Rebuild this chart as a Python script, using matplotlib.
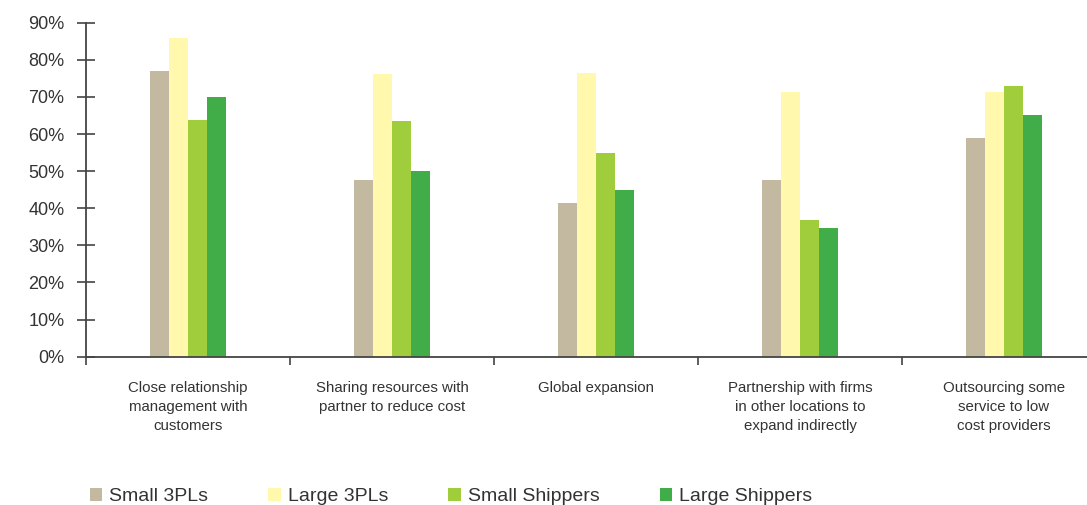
import numpy as np
import matplotlib.pyplot as plt
from matplotlib.patches import Patch

plt.rcParams['font.family'] = ['Liberation Sans', 'DejaVu Sans']

# Survey data (percent of respondents)
categories = [
    "Close relationship\nmanagement with\ncustomers",
    "Sharing resources with\npartner to reduce cost",
    "Global expansion",
    "Partnership with firms\nin other locations to\nexpand indirectly",
    "Outsourcing some\nservice to low\ncost providers",
]
series_names = ["Small 3PLs", "Large 3PLs", "Small Shippers", "Large Shippers"]
small_3pls = [77, 47.5, 41.5, 47.5, 58.8]
large_3pls = [86, 76.3, 76.5, 71.4, 71.4]
small_shippers = [63.8, 63.5, 55, 36.8, 73]
large_shippers = [70, 50, 45, 34.7, 65.2]
colors = ["#c2b9a0", "#fff8ad", "#a0cd3c", "#41ad49"]

AXIS_COLOR = "#444444"
TEXT_COLOR = "#333333"

fig = plt.figure(figsize=(10.87, 5.05), dpi=100)
ax = fig.add_axes([86 / 1087, 148.3 / 505, 1 - 86 / 1087, (356.7 - 22.7) / 505])

x = np.arange(len(categories))
bar_w = 0.093
all_series = [small_3pls, large_3pls, small_shippers, large_shippers]
for i, (vals, c) in enumerate(zip(all_series, colors)):
    ax.bar(x + (i - 1.5) * bar_w, vals, width=bar_w, color=c, linewidth=0, zorder=2)

# y axis: crossing ticks with percent labels
ax.set_yticks(np.arange(0, 91, 10))
ax.set_yticklabels([f"{v}%" for v in range(0, 91, 10)])
ax.tick_params(axis="y", direction="inout", length=13, width=1.2,
               color=AXIS_COLOR, labelcolor=TEXT_COLOR, labelsize=13, pad=9)

# x axis: boundary ticks below, category labels under each group
ax.set_xticks(np.arange(-0.5, 5, 1.0))
ax.set_xticklabels([])
ax.tick_params(axis="x", which="major", direction="out", length=6, width=1.2, color=AXIS_COLOR)
ax.set_xticks(x, minor=True)
ax.set_xticklabels(categories, minor=True)
ax.tick_params(axis="x", which="minor", length=0, pad=17.5, labelsize=10.8, labelcolor=TEXT_COLOR)
for lbl in ax.get_xticklabels(minor=True):
    lbl.set_linespacing(1.45)
    lbl.set_verticalalignment("top")

ax.set_xlim(-0.5, -0.5 + 1001 / 204)
ax.set_ylim(0, 90)

for side in ["top", "right"]:
    ax.spines[side].set_visible(False)
for side in ["left", "bottom"]:
    ax.spines[side].set_color(AXIS_COLOR)
    ax.spines[side].set_linewidth(1.3)

handles = [Patch(facecolor=c, edgecolor="none") for c in colors]
fig.legend(handles, series_names, loc="lower left", bbox_to_anchor=(72 / 1087, -0.035),
           ncol=4, frameon=False, fontsize=14, handlelength=0.65, handleheight=0.65,
           handletextpad=0.35, columnspacing=3.1, labelcolor=TEXT_COLOR)

fig.savefig("out.png", dpi=100)
